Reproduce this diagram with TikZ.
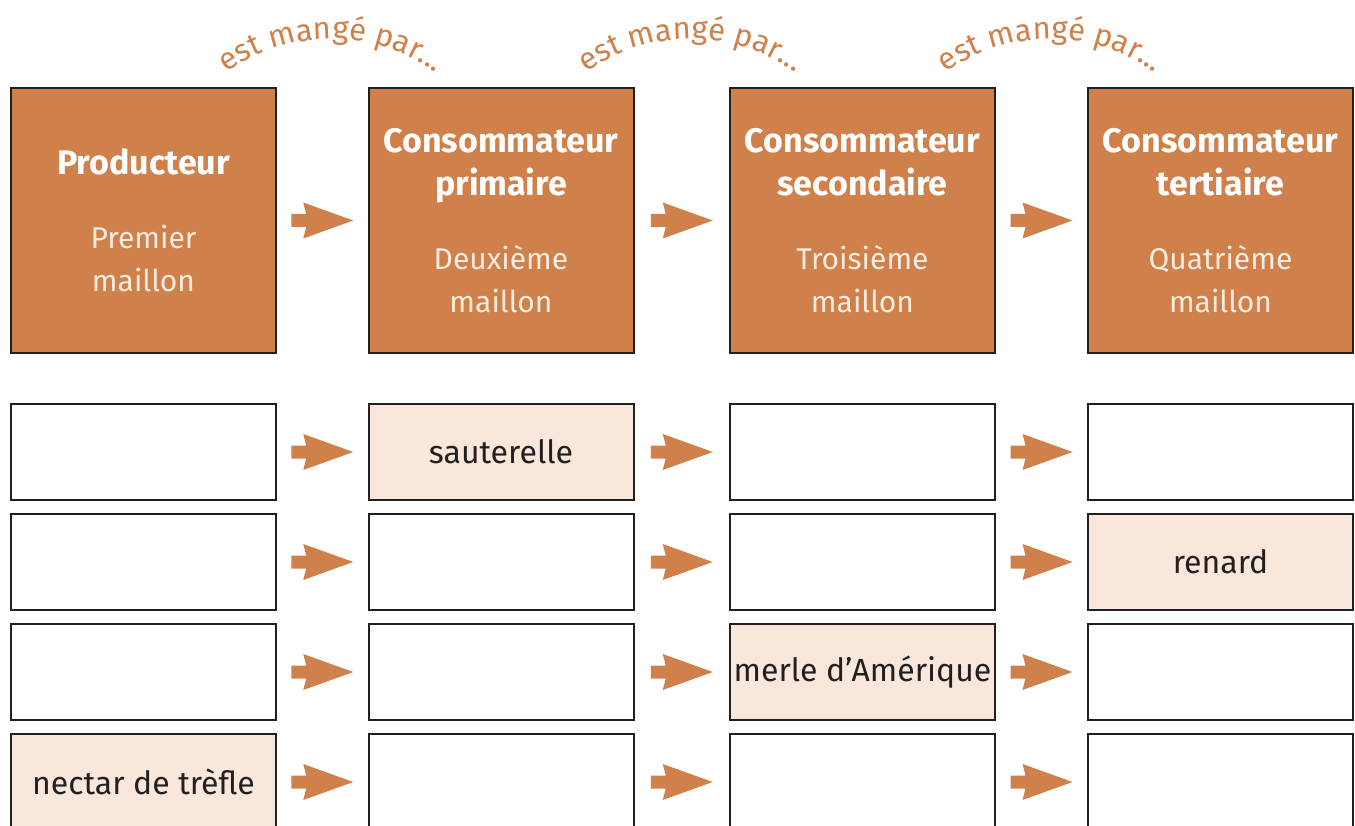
\documentclass[tikz,border=0pt]{standalone}
\usepackage{fontspec}
\setmainfont{Fira Sans}
\usetikzlibrary{positioning}
\usetikzlibrary{calc}
\usetikzlibrary{decorations.text}
\definecolor{rouille}{RGB}{208,128,74}
\definecolor{peche}{RGB}{248,231,218}
\definecolor{encre}{RGB}{35,31,32}
\definecolor{creme}{RGB}{250,236,224}
\newcommand{\titre}[1]{{\fontsize{34}{43}\selectfont\bfseries\color{white}#1}}

\tikzset{
  entete/.style={draw=encre, line width=2pt, fill=rouille, minimum width=265pt, minimum height=265pt, align=center, text=creme, font=\fontsize{30}{43}\selectfont},
  case/.style={draw=encre, line width=2pt, minimum width=265pt, minimum height=96pt, text=encre, font=\fontsize{32}{36}\selectfont},
  fleche/.pic={\fill[rouille] (-31,-6.5) -- (-16,-6.5) -- (-19,-18) -- (31,0) -- (-19,18) -- (-16,6.5) -- (-31,6.5) -- cycle;},
  courbe/.style={decorate, decoration={text along path, text align=center, text color=rouille, text={|\fontsize{31}{34}\selectfont|est mangé par...}}}
}

\begin{document}
\begin{tikzpicture}[x=1pt,y=1pt,yscale=-1]
\useasboundingbox (0,0) rectangle (1355,826);

% en-tetes
\node[entete] (c1) at (143.5,220.5) {\titre{Producteur}\\[31pt]Premier\\maillon};
\node[entete] (c2) at (501,220.5) {\titre{Consommateur}\\\titre{primaire}\\[31pt]Deuxième\\maillon};
\node[entete] (c3) at (862.5,220.5) {\titre{Consommateur}\\\titre{secondaire}\\[31pt]Troisième\\maillon};
\node[entete] (c4) at (1220.5,220.5) {\titre{Consommateur}\\\titre{tertiaire}\\[31pt]Quatrième\\maillon};

% est mange par...
\foreach \a/\b in {c1/c2, c2/c3, c3/c4} {
  \coordinate (g\a) at ($(\a.north east)!0.5!(\b.north west)+(9,130)$);
  \path[courbe] (g\a) ++(226:178) arc[start angle=226, end angle=314, radius=178];
}

% cases
\foreach \x/\y/\nom/\fond/\txt in {
  143.5/452/c1r1/white/, 501/452/c2r1/peche/sauterelle, 862.5/452/c3r1/white/, 1220.5/452/c4r1/white/,
  143.5/562/c1r2/white/, 501/562/c2r2/white/, 862.5/562/c3r2/white/, 1220.5/562/c4r2/peche/renard,
  143.5/672/c1r3/white/, 501/672/c2r3/white/, 862.5/672/c3r3/peche/merle d’Amérique, 1220.5/672/c4r3/white/,
  143.5/782/c1r4/peche/nectar de trèfle, 501/782/c2r4/white/, 862.5/782/c3r4/white/, 1220.5/782/c4r4/white/}
  \node[case, fill=\fond] (\nom) at (\x,\y) {\txt};

% fleches
\foreach \a/\b in {c1/c2, c2/c3, c3/c4} {
  \pic at ($(\a.east)!0.5!(\b.west)$) {fleche};
  \foreach \r in {r1,r2,r3,r4}
    \pic at ($(\a\r.east)!0.5!(\b\r.west)$) {fleche};
}

\end{tikzpicture}
\end{document}
